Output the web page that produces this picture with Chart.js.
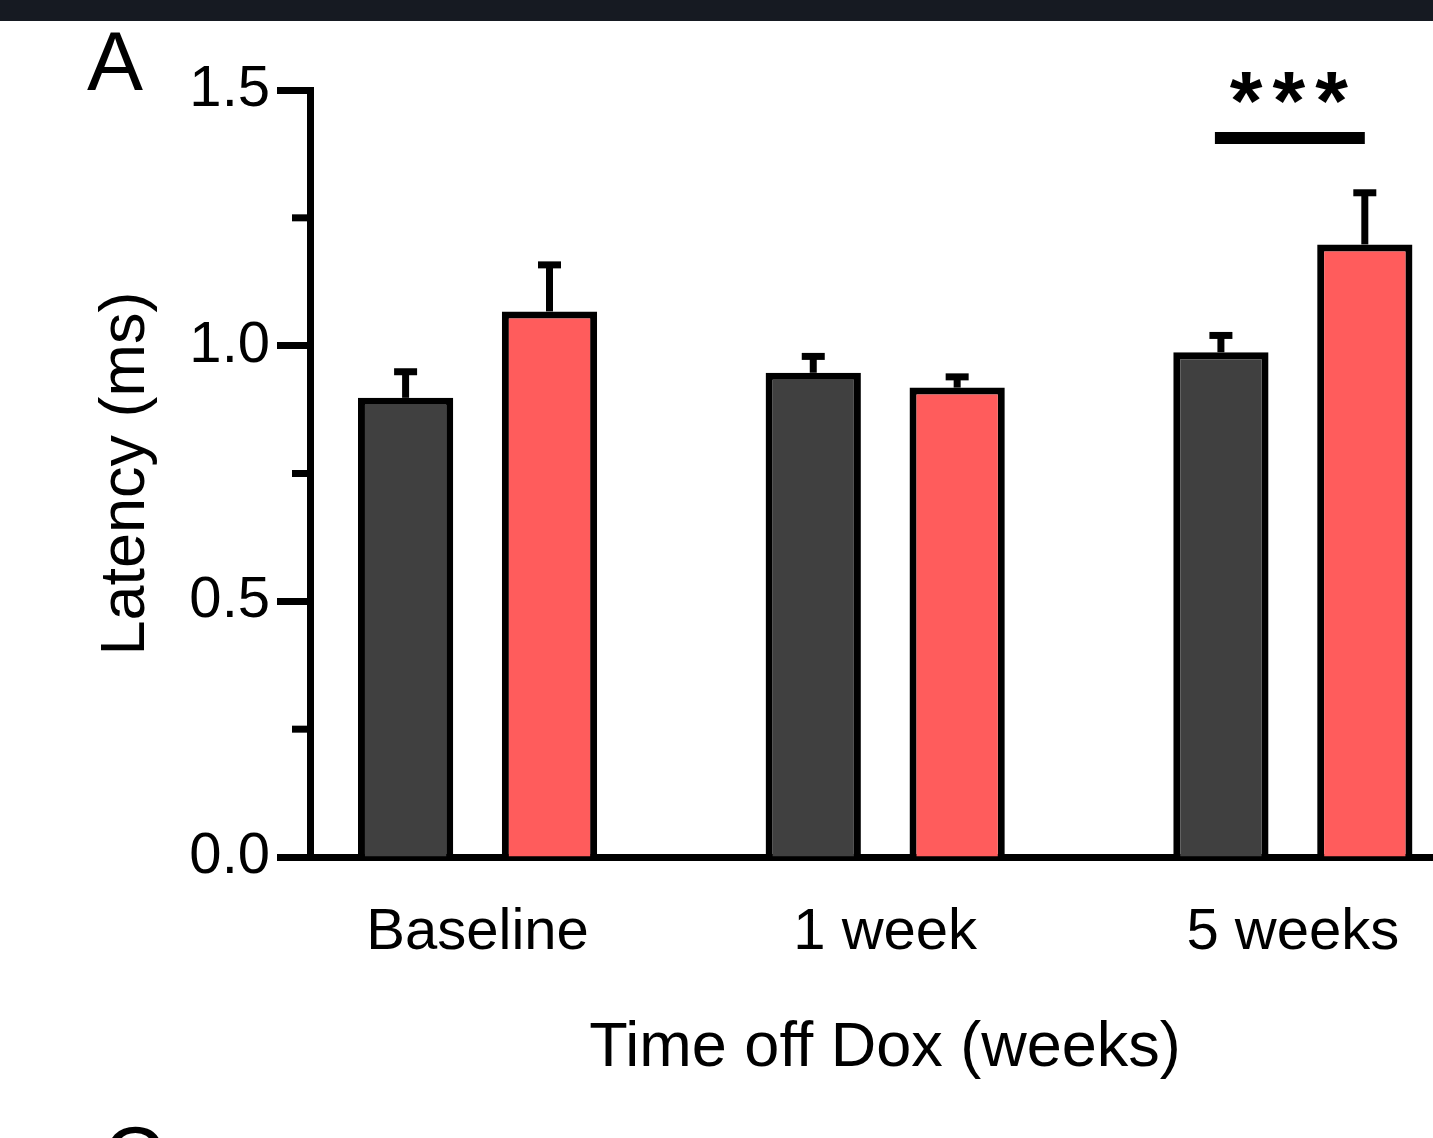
<!DOCTYPE html>
<html>
<head>
<meta charset="utf-8">
<script src="https://cdn.jsdelivr.net/npm/chart.js@4.4.1/dist/chart.umd.min.js"></script>
<style>
  html, body { margin: 0; padding: 0; background: #ffffff; overflow: hidden; }
  canvas { display: block; }
</style>
</head>
<body>
<canvas id="latencyChart" width="1460" height="1138"></canvas>
<script>
// Dane
const categories = ["Baseline", "1 week", "5 weeks"];
const controlMeans = [0.898, 0.947, 0.987];
const controlSem = [0.051, 0.032, 0.033];
const doxMeans = [1.067, 0.918, 1.198];
const doxSem = [0.091, 0.021, 0.101];
const yTicks = [0, 0.25, 0.5, 0.75, 1.0, 1.25, 1.5];
const sigLevel = 1.406;
const sigText = "***";

const FONT = "'Liberation Sans', Arial, Helvetica, sans-serif";
Chart.defaults.font.family = FONT;
Chart.defaults.color = "#000000";

function toPoints(values) {
  return values.map((v, i) => ({ x: i, y: v }));
}

// Słupki błędu (tylko w górę)
const errorBars = {
  id: "errorBars",
  afterDatasetsDraw(chart) {
    const ctx = chart.ctx;
    const y = chart.scales.y;
    const sems = [controlSem, doxSem];
    ctx.save();
    ctx.strokeStyle = "#000000";
    ctx.lineWidth = 7;
    ctx.lineCap = "butt";
    chart.data.datasets.forEach((ds, di) => {
      const meta = chart.getDatasetMeta(di);
      meta.data.forEach((bar, i) => {
        const top = y.getPixelForValue(ds.data[i].y + sems[di][i]);
        ctx.beginPath();
        ctx.moveTo(bar.x, bar.y);
        ctx.lineTo(bar.x, top);
        ctx.stroke();
        ctx.beginPath();
        ctx.moveTo(bar.x - 11.5, top);
        ctx.lineTo(bar.x + 11.5, top);
        ctx.stroke();
      });
    });
    ctx.restore();
  }
};

// Krótkie podziałki pośrednie osi Y
const minorTicks = {
  id: "minorTicks",
  afterDraw(chart) {
    const ctx = chart.ctx;
    const y = chart.scales.y;
    ctx.save();
    ctx.strokeStyle = "#000000";
    ctx.lineWidth = 7;
    yTicks.filter(v => Math.round(v * 100) % 50 !== 0).forEach(v => {
      const py = y.getPixelForValue(v);
      ctx.beginPath();
      ctx.moveTo(chart.chartArea.left - 18, py);
      ctx.lineTo(chart.chartArea.left, py);
      ctx.stroke();
    });
    ctx.restore();
  }
};

// Gwiazdki istotności nad ostatnią grupą + ramka strony
const extras = {
  id: "extras",
  afterDraw(chart) {
    const ctx = chart.ctx;
    const y = chart.scales.y;
    const a = chart.getDatasetMeta(0).data[2];
    const b = chart.getDatasetMeta(1).data[2];
    const ly = y.getPixelForValue(sigLevel);
    ctx.save();
    ctx.strokeStyle = "#000000";
    ctx.lineWidth = 12;
    ctx.beginPath();
    ctx.moveTo(a.x - 6, ly);
    ctx.lineTo(b.x, ly);
    ctx.stroke();

    ctx.fillStyle = "#000000";
    ctx.font = "bold 84px " + FONT;
    ctx.letterSpacing = "10px";
    ctx.textAlign = "center";
    ctx.textBaseline = "alphabetic";
    ctx.fillText(sigText, (a.x - 6 + b.x) / 2 + 4, ly - 8);
    ctx.letterSpacing = "0px";

    // ciemny pasek u góry
    ctx.fillStyle = "#161a22";
    ctx.fillRect(0, 0, chart.width, 21);

    // litery paneli
    ctx.fillStyle = "#000000";
    ctx.font = "84px " + FONT;
    ctx.textAlign = "left";
    ctx.fillText("A", 87, 90);
    ctx.fillText("C", 103, 1185);
    ctx.restore();
  }
};

const ctx = document.getElementById("latencyChart").getContext("2d");
const latencyChart = new Chart(ctx, {
  type: "bar",
  data: {
    datasets: [
      {
        label: "Control",
        data: toPoints(controlMeans),
        backgroundColor: "#404040",
        borderColor: "#000000",
        borderWidth: 7,
        borderSkipped: "start",
        categoryPercentage: 0.706,
        barPercentage: 0.662
      },
      {
        label: "Dox",
        data: toPoints(doxMeans),
        backgroundColor: "#ff5c5c",
        borderColor: "#000000",
        borderWidth: 7,
        borderSkipped: "start",
        categoryPercentage: 0.706,
        barPercentage: 0.662
      }
    ]
  },
  options: {
    responsive: false,
    animation: false,
    layout: { padding: { top: 90, left: 0, right: 0, bottom: 0 } },
    plugins: {
      legend: { display: false },
      tooltip: { enabled: false }
    },
    scales: {
      x: {
        type: "linear",
        offset: false,
        min: -0.411,
        max: 2.41,
        afterBuildTicks: scale => {
          scale.ticks = categories.map((c, i) => ({ value: i }));
        },
        afterFit: scale => { scale.height = 281; },
        ticks: {
          callback: value => categories[value],
          font: { size: 58 },
          color: "#000000",
          padding: 41,
          maxRotation: 0,
          autoSkip: false
        },
        grid: { display: false, drawTicks: false, offset: false },
        border: { display: true, color: "#000000", width: 7 },
        title: {
          display: true,
          text: "Time off Dox (weeks)",
          font: { size: 63 },
          color: "#000000",
          padding: { top: 0, bottom: 52 }
        }
      },
      y: {
        min: 0,
        max: 1.5,
        afterBuildTicks: scale => {
          scale.ticks = yTicks.map(v => ({ value: v }));
        },
        afterFit: scale => { scale.width = 310; },
        ticks: {
          callback: value => (Math.round(value * 100) % 50 === 0 ? value.toFixed(1) : ""),
          font: { size: 58 },
          color: "#000000",
          padding: 7
        },
        grid: {
          drawOnChartArea: false,
          drawTicks: true,
          tickLength: 33,
          tickWidth: 7,
          tickColor: c => (Math.round(c.tick.value * 100) % 50 === 0 ? "#000000" : "rgba(0,0,0,0)")
        },
        border: { display: true, color: "#000000", width: 7 },
        title: {
          display: true,
          text: "Latency (ms)",
          font: { size: 63 },
          color: "#000000",
          padding: { top: 89, bottom: 0 }
        }
      }
    }
  },
  plugins: [errorBars, minorTicks, extras]
});
</script>
</body>
</html>
